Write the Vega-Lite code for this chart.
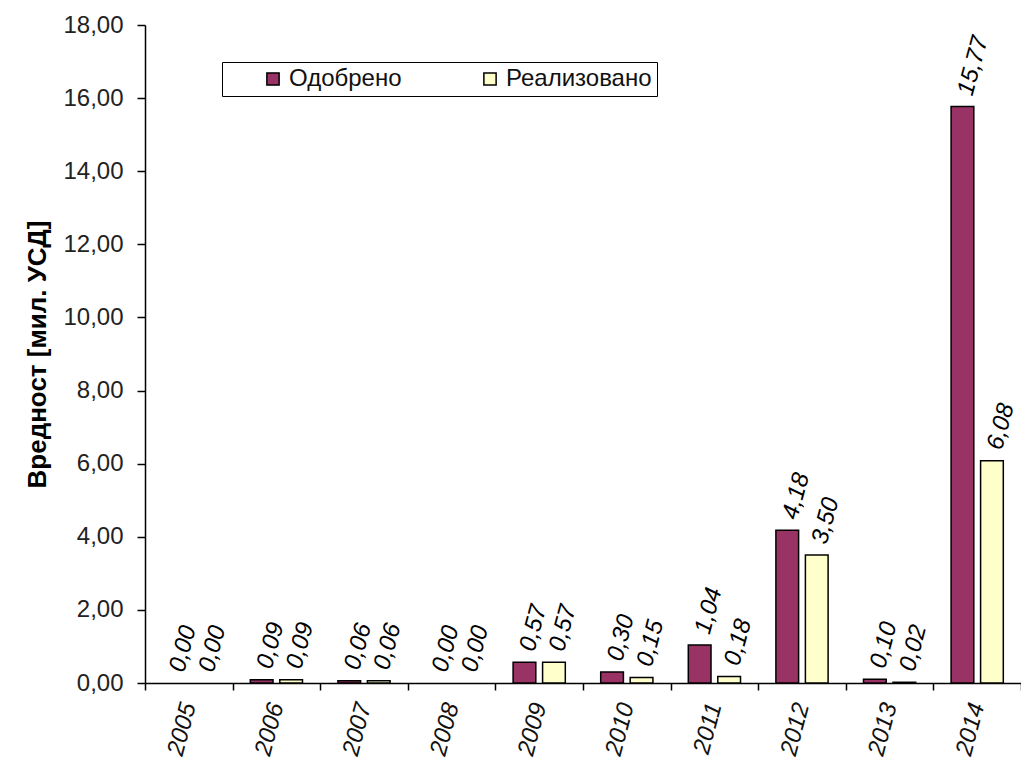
{
  "$schema": "https://vega.github.io/schema/vega-lite/v6.json",
  "width": 876,
  "height": 658,
  "autosize": "none",
  "padding": {"left": 145, "top": 25, "right": 0, "bottom": 83},
  "background": "white",
  "config": {
    "view": {"stroke": null},
    "font": "Liberation Sans",
    "locale": {"number": {"decimal": ",", "thousands": ".", "grouping": [3], "currency": ["", ""]}}
  },
  "data": {
    "values": [
      {"year": "2005", "series": "Одобрено", "value": 0.00},
      {"year": "2005", "series": "Реализовано", "value": 0.00},
      {"year": "2006", "series": "Одобрено", "value": 0.09},
      {"year": "2006", "series": "Реализовано", "value": 0.09},
      {"year": "2007", "series": "Одобрено", "value": 0.06},
      {"year": "2007", "series": "Реализовано", "value": 0.06},
      {"year": "2008", "series": "Одобрено", "value": 0.00},
      {"year": "2008", "series": "Реализовано", "value": 0.00},
      {"year": "2009", "series": "Одобрено", "value": 0.57},
      {"year": "2009", "series": "Реализовано", "value": 0.57},
      {"year": "2010", "series": "Одобрено", "value": 0.30},
      {"year": "2010", "series": "Реализовано", "value": 0.15},
      {"year": "2011", "series": "Одобрено", "value": 1.04},
      {"year": "2011", "series": "Реализовано", "value": 0.18},
      {"year": "2012", "series": "Одобрено", "value": 4.18},
      {"year": "2012", "series": "Реализовано", "value": 3.50},
      {"year": "2013", "series": "Одобрено", "value": 0.10},
      {"year": "2013", "series": "Реализовано", "value": 0.02},
      {"year": "2014", "series": "Одобрено", "value": 15.77},
      {"year": "2014", "series": "Реализовано", "value": 6.08}
    ]
  },
  "encoding": {
    "x": {
      "field": "year",
      "type": "ordinal",
      "scale": {"paddingInner": 0, "paddingOuter": 0},
      "axis": {
        "title": null,
        "labelAngle": -75,
        "labelAlign": "right",
        "labelBaseline": "middle",
        "labelFont": "Liberation Sans",
        "labelFontStyle": "italic",
        "labelFontSize": 24,
        "labelColor": "#111",
        "labelPadding": 13,
        "tickBand": "extent",
        "tickSize": 7,
        "tickColor": "#000",
        "tickWidth": 1.5,
        "domainColor": "#000",
        "domainWidth": 1.5
      }
    },
    "xOffset": {
      "field": "series",
      "type": "nominal",
      "scale": {"paddingInner": 0.23, "paddingOuter": 0.6}
    },
    "y": {
      "field": "value",
      "type": "quantitative",
      "scale": {"domain": [0, 18], "nice": false},
      "axis": {
        "title": "Вредност [мил. УСД]",
        "titleFont": "Liberation Sans",
        "titleFontSize": 26,
        "titleFontWeight": "bold",
        "titleColor": "#000",
        "titlePadding": 12,
        "values": [0, 2, 4, 6, 8, 10, 12, 14, 16, 18],
        "format": ".2f",
        "labelFont": "Liberation Sans",
        "labelFontSize": 24,
        "labelColor": "#222",
        "labelPadding": 14,
        "tickSize": 8,
        "tickColor": "#000",
        "tickWidth": 1.5,
        "domainColor": "#000",
        "domainWidth": 1.5,
        "grid": false
      }
    }
  },
  "layer": [
    {
      "mark": {"type": "bar", "stroke": "#000", "strokeWidth": 1.5},
      "encoding": {
        "strokeOpacity": {
          "condition": {"test": "datum.value > 0", "value": 1},
          "value": 0
        },
        "color": {
          "field": "series",
          "type": "nominal",
          "scale": {"domain": ["Одобрено", "Реализовано"], "range": ["#993366", "#FFFFCC"]},
          "legend": {
            "title": null,
            "orient": "none",
            "legendX": 77,
            "legendY": 37,
            "direction": "horizontal",
            "symbolType": "square",
            "symbolSize": 150,
            "symbolStrokeColor": "#000",
            "symbolStrokeWidth": 1.5,
            "symbolOffset": 34,
            "labelOffset": 4,
            "labelFont": "Liberation Sans",
            "labelFontSize": 24,
            "labelColor": "#111",
            "columnPadding": 42,
            "padding": 5,
            "strokeColor": "#000",
            "fillColor": "#fff"
          }
        }
      }
    },
    {
      "mark": {
        "type": "text",
        "angle": -75,
        "align": "left",
        "baseline": "middle",
        "dx": 12,
        "font": "Liberation Sans",
        "fontStyle": "italic",
        "fontSize": 24,
        "color": "#000"
      },
      "encoding": {
        "text": {"field": "value", "type": "quantitative", "format": ".2f"}
      }
    }
  ]
}
